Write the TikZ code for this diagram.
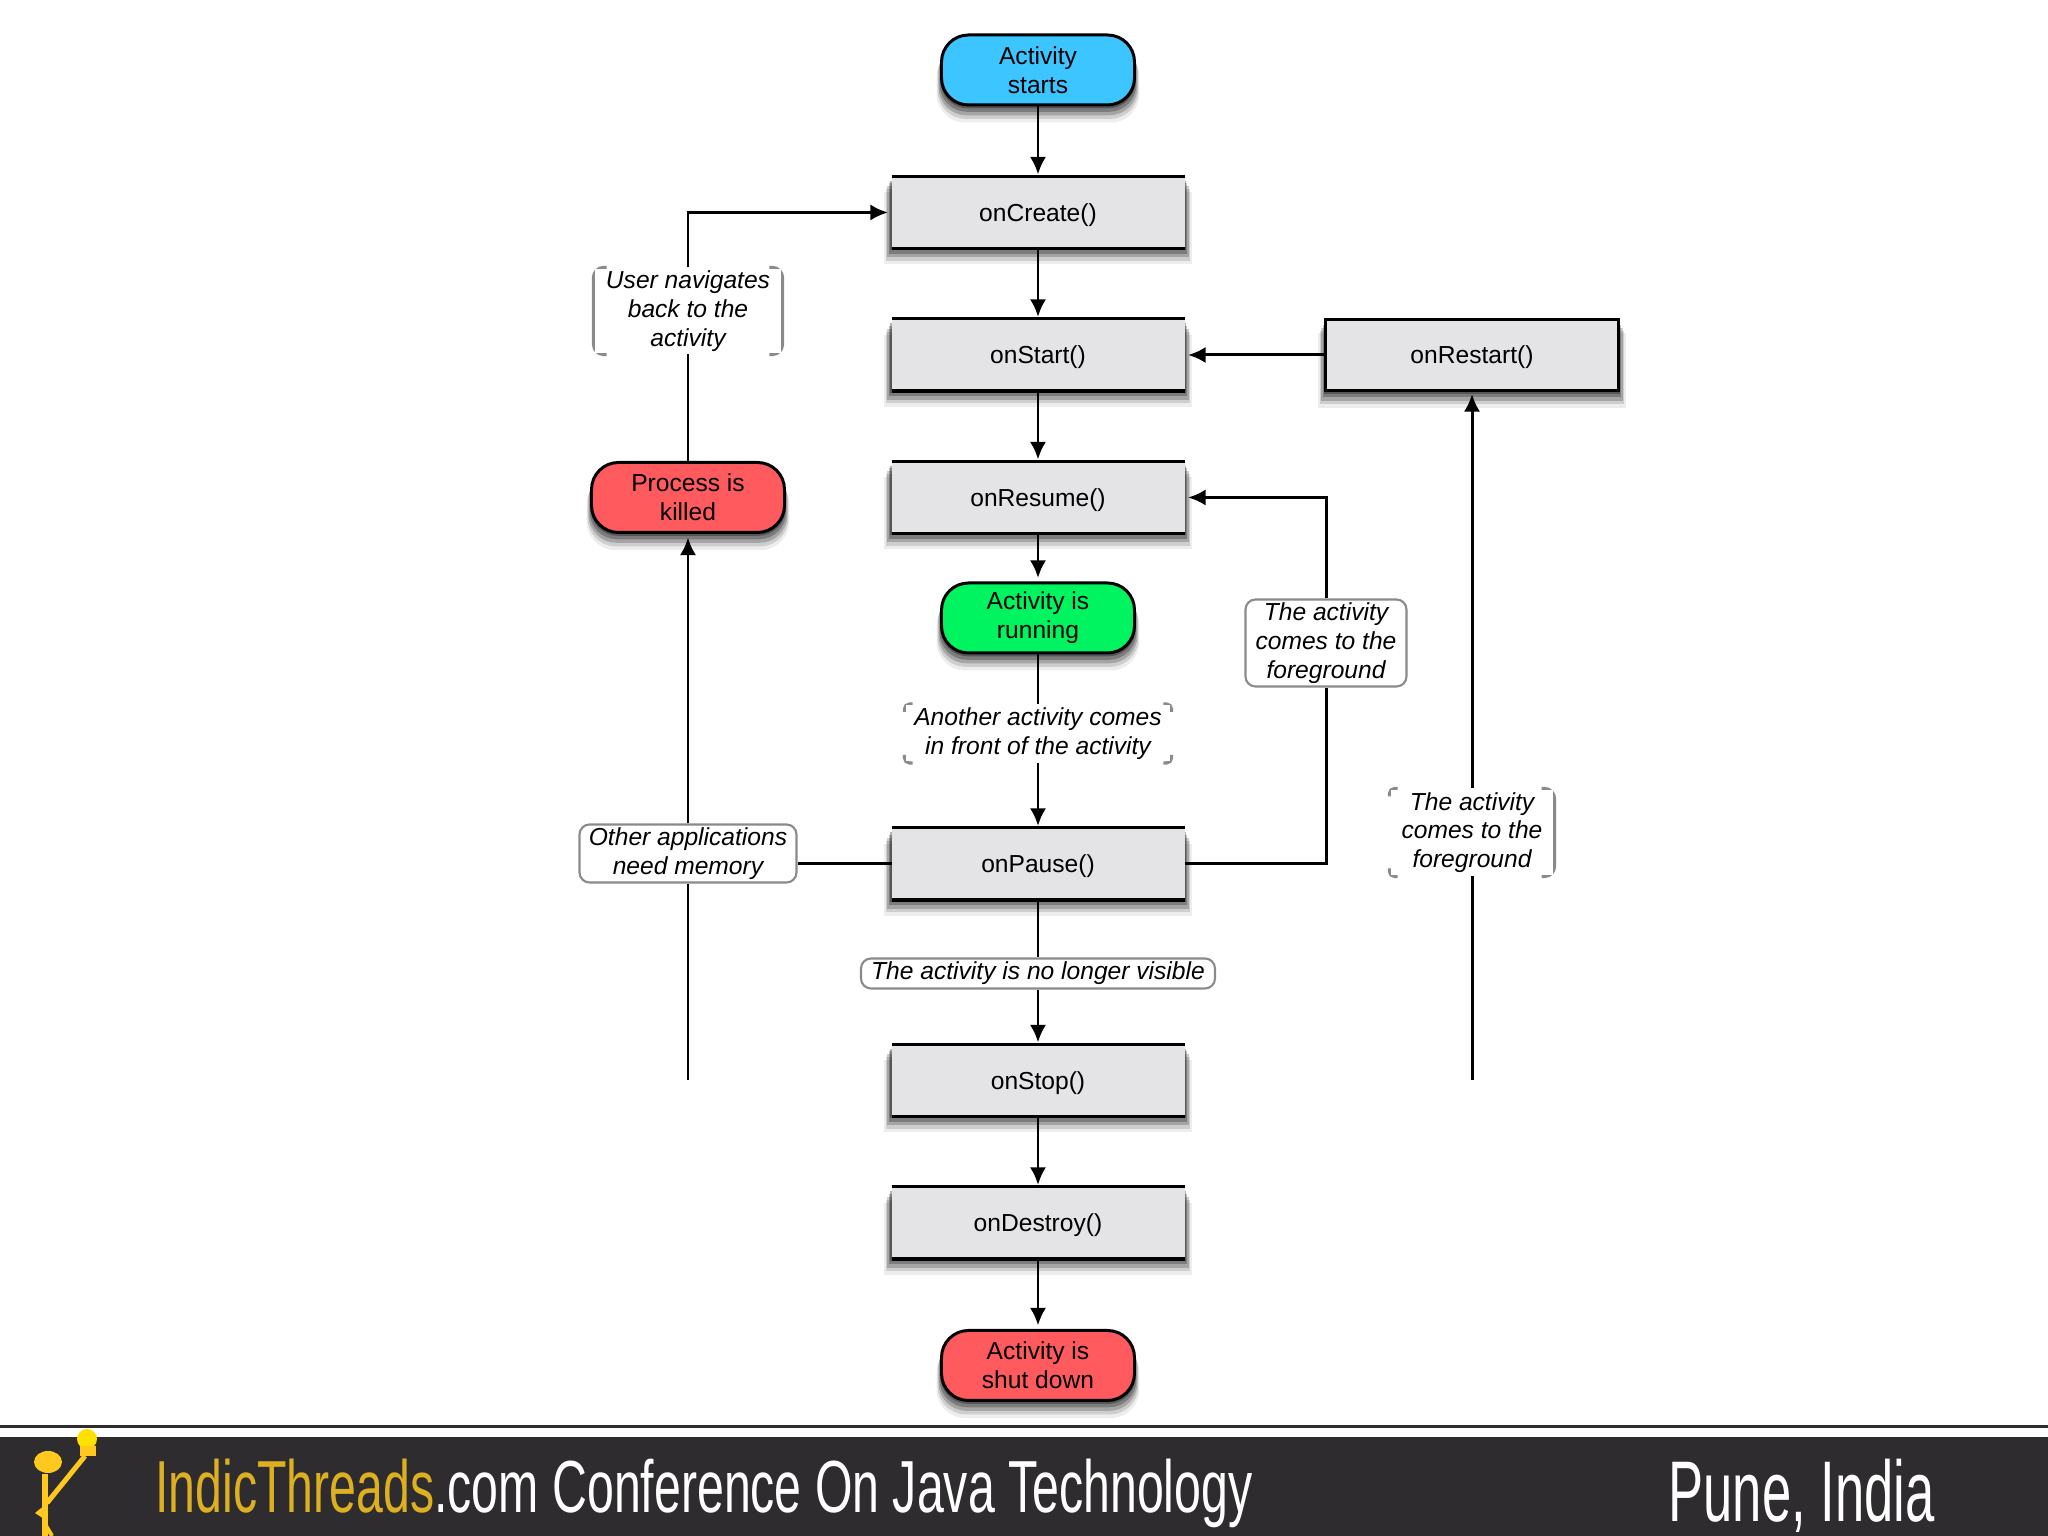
\documentclass[tikz,border=0pt]{standalone}
\usepackage{fontspec}
\setmainfont{Liberation Sans}
\usepackage{xcolor}
\usepackage{tikz}
\usetikzlibrary{arrows.meta,shadows}

\definecolor{startblue}{HTML}{3DC5FF}
\definecolor{runninggreen}{HTML}{00F45F}
\definecolor{killedred}{HTML}{FF5B5E}
\definecolor{boxgray}{HTML}{E4E4E6}
\definecolor{notegray}{HTML}{8A8A8A}
\definecolor{footerdark}{HTML}{2E2C2E}
\definecolor{footergold}{HTML}{DDB022}
\definecolor{bulbyellow}{HTML}{FFE100}
\definecolor{logoyellow}{HTML}{FFC81E}

\tikzstyle{arrow} = [-{Latex[length=5pt,width=4.6pt]}, shorten >=1pt]
\tikzstyle{softshadow} = [
	drop shadow={shadow xshift=0pt, shadow yshift=-0.03cm, shadow scale=1.01, opacity=.3, fill=black},
	drop shadow={shadow xshift=0pt, shadow yshift=-0.06cm, shadow scale=1.02, opacity=.25, fill=black},
	drop shadow={shadow xshift=0pt, shadow yshift=-0.09cm, shadow scale=1.03, opacity=.2, fill=black},
	drop shadow={shadow xshift=0pt, shadow yshift=-0.12cm, shadow scale=1.04, opacity=.13, fill=black},
	drop shadow={shadow xshift=0pt, shadow yshift=-0.15cm, shadow scale=1.05, opacity=.07, fill=black}]
\tikzstyle{taskbase} = [fill=boxgray, minimum width=2.93cm, minimum height=0.69cm, inner sep=0pt, outer sep=0pt, text height=6.6pt, text depth=1.5pt, softshadow]
\tikzstyle{task} = [taskbase, append after command={\pgfextra{
	\draw [line width=1.8pt] (\tikzlastnode.north west) -- (\tikzlastnode.north east);
	\draw [line width=2pt] (\tikzlastnode.south west) -- (\tikzlastnode.south east);}}]
\tikzstyle{pill} = [draw=black, rounded corners=0.27cm, minimum width=1.93cm, minimum height=0.70cm, inner sep=0pt, align=center, softshadow]
\tikzstyle{note} = [fill=white, inner sep=0pt, align=center, yshift=-0.015cm, font=\fontsize{7}{8.2}\selectfont\itshape]
\tikzstyle{framed} = [draw=notegray, line width=.6pt, rounded corners=0.1cm]
\tikzstyle{lbracket} = [append after command={\pgfextra{
	\draw [notegray, line width=.9pt, rounded corners=0.1cm] ([xshift=0.13cm]\tikzlastnode.north west) -- (\tikzlastnode.north west) -- (\tikzlastnode.south west) -- ([xshift=0.13cm]\tikzlastnode.south west);}}]
\tikzstyle{rbracket} = [append after command={\pgfextra{
	\draw [notegray, line width=.9pt, rounded corners=0.1cm] ([xshift=-0.13cm]\tikzlastnode.north east) -- (\tikzlastnode.north east) -- (\tikzlastnode.south east) -- ([xshift=-0.13cm]\tikzlastnode.south east);}}]
\tikzstyle{lcorners} = [append after command={\pgfextra{
	\draw [notegray, line width=.9pt, rounded corners=0.05cm] ([xshift=0.08cm]\tikzlastnode.north west) -- (\tikzlastnode.north west) -- ([yshift=-0.08cm]\tikzlastnode.north west);
	\draw [notegray, line width=.9pt, rounded corners=0.05cm] ([xshift=0.08cm]\tikzlastnode.south west) -- (\tikzlastnode.south west) -- ([yshift=0.08cm]\tikzlastnode.south west);}}]
\tikzstyle{rcorners} = [append after command={\pgfextra{
	\draw [notegray, line width=.9pt, rounded corners=0.05cm] ([xshift=-0.08cm]\tikzlastnode.north east) -- (\tikzlastnode.north east) -- ([yshift=-0.08cm]\tikzlastnode.north east);
	\draw [notegray, line width=.9pt, rounded corners=0.05cm] ([xshift=-0.08cm]\tikzlastnode.south east) -- (\tikzlastnode.south east) -- ([yshift=0.08cm]\tikzlastnode.south east);}}]

\begin{document}
\begin{tikzpicture}[node distance=1.425cm, line width=.85pt, every node/.style={font=\fontsize{7}{8.2}\selectfont}]
	\useasboundingbox (0,0) rectangle (20.48,15.36);

	% middle column
	\node (start) [pill, fill=startblue] at (10.38,14.66) {Activity\\starts};
	\node (oncreate) [task, below of=start] {onCreate()};
	\node (onstart) [task, below of=oncreate] {onStart()};
	\node (onresume) [task, below of=onstart] {onResume()};
	\node (running) [pill, fill=runninggreen, below of=onresume, yshift=0.22cm] {Activity is\\running};
	\node (onpause) [task, below of=running, yshift=-1.035cm] {onPause()};
	\node (onstop) [task, below of=onpause, yshift=-0.74cm] {onStop()};
	\node (ondestroy) [task, below of=onstop] {onDestroy()};
	\node (shutdown) [pill, fill=killedred, below of=ondestroy] {Activity is\\shut down};

	% side columns
	\node (onrestart) [taskbase, minimum height=0.71cm, draw=black, line width=.9pt, right of=onstart, xshift=2.915cm] {onRestart()};
	\node (killed) [pill, fill=killedred, left of=onresume, xshift=-2.075cm] {Process is\\killed};
	\coordinate (leftend) at (killed |- onstop);
	\coordinate (rightend) at (onrestart |- onstop);

	% notes on the lines
	\node (navnote) [note, lbracket, rbracket, minimum width=1.86cm, minimum height=0.84cm, above of=killed, yshift=0.455cm] {User navigates\\back to the\\activity};
	\node (frontnote) [note, lcorners, rcorners, minimum width=2.64cm, minimum height=0.56cm, below of=running, yshift=0.285cm] {Another activity comes\\in front of the activity};
	\node (memnote) [note, framed, minimum width=2.17cm, minimum height=0.58cm, left of=onpause, xshift=-2.075cm, yshift=0.12cm] {Other applications\\need memory};
	\node (hiddennote) [note, framed, minimum width=3.54cm, minimum height=0.30cm, below of=onpause, yshift=0.345cm] {The activity is no longer visible};
	\node (resumenote) [note, framed, minimum width=1.61cm, minimum height=0.87cm, right of=onpause, xshift=1.455cm, yshift=2.225cm] {The activity\\comes to the\\foreground};
	\node (restartnote) [note, lcorners, rbracket, minimum width=1.62cm, minimum height=0.85cm, below of=onrestart, yshift=-3.335cm] {The activity\\comes to the\\foreground};

	\draw [arrow] (start) -- (oncreate);
	\draw [arrow] (oncreate) -- (onstart);
	\draw [arrow] (onstart) -- (onresume);
	\draw [arrow] (onresume) -- (running);
	\draw (running) -- (frontnote);
	\draw [arrow] (frontnote) -- (onpause);
	\draw (onpause) -- (hiddennote);
	\draw [arrow] (hiddennote) -- (onstop);
	\draw [arrow] (onstop) -- (ondestroy);
	\draw [arrow] (ondestroy) -- (shutdown);

	\draw [arrow] (onrestart) -- (onstart);
	\draw (rightend) -- (restartnote);
	\draw [arrow] (restartnote) -- (onrestart);
	\draw (onpause) -| (resumenote);
	\draw [arrow] (resumenote) |- (onresume);

	\draw (onpause) -- (memnote.east |- onpause);
	\draw (leftend) -- (memnote);
	\draw [arrow] (memnote) -- (killed);
	\draw (killed) -- (navnote);
	\draw [arrow] (navnote) |- (oncreate);

	% footer
	\draw [footerdark] (0,1.095) -- (20.48,1.095);
	\fill [footerdark] (0,0) rectangle (20.48,0.99);
	\node (footerleft) [anchor=base west, inner sep=0pt, text=white, font=\fontsize{21}{21}\selectfont] at (1.54,0.23) {\resizebox{10.97cm}{\height}{\textcolor{footergold}{IndicThreads}.com Conference On Java Technology}};
	\node (footerright) [anchor=base west, inner sep=0pt, text=white, font=\fontsize{24.5}{24.5}\selectfont] at (16.67,0.14) {\resizebox{2.66cm}{\height}{Pune, India}};

	% logo
	\fill [logoyellow] (0.48,0.74) ellipse (0.14 and 0.11);
	\draw [logoyellow, line width=.06cm] (0.45,0.62) -- (0.45,0);
	\draw [logoyellow, line width=.05cm] (0.47,0.33) -- (0.85,0.80);
	\draw [logoyellow, line width=.04cm] (0.45,0.12) -- (0.52,0);
	\fill [logoyellow] (0.35,0.23) -- (0.45,0.31) -- (0.47,0.15) -- cycle;
	\fill [bulbyellow] (0.87,0.97) circle (0.10);
	\fill [logoyellow] (0.80,0.80) rectangle (0.96,0.90);
\end{tikzpicture}
\end{document}
